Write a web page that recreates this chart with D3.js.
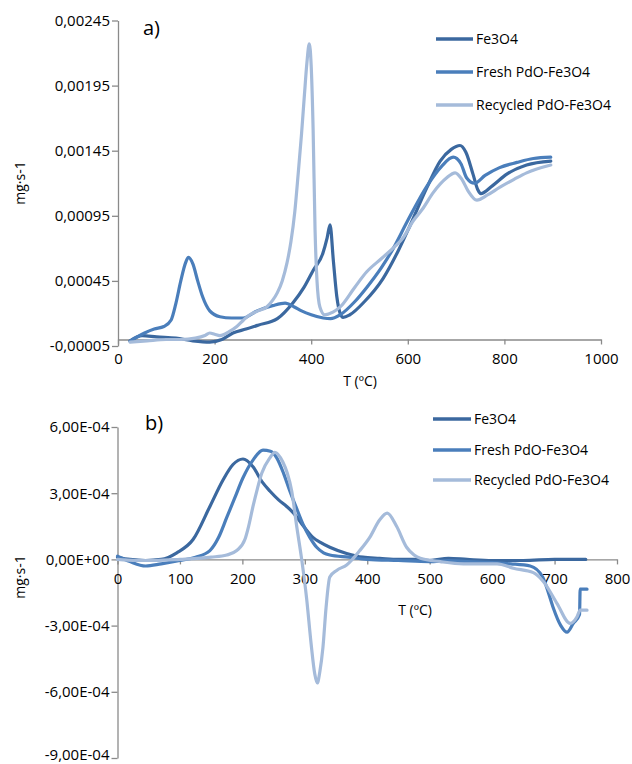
<!DOCTYPE html>
<html>
<head>
<meta charset="utf-8">
<script src="https://cdn.jsdelivr.net/npm/d3@7"></script>
<style>
  html, body { margin: 0; padding: 0; background: #fff; }
  svg { display: block; }
  text { font-family: "Open Sans", "Noto Sans", sans-serif; fill: #000; }
</style>
</head>
<body>
<script>
// ---------------- DATA ----------------
const seriesNames = ["Fe3O4", "Fresh PdO-Fe3O4", "Recycled PdO-Fe3O4"];
const seriesColors = ["#3b689f", "#4a7ebb", "#a5bbda"];

// Panel a) ticks
const xTicksA = [0, 200, 400, 600, 800, 1000];
const yTicksA = [-0.00005, 0.00045, 0.00095, 0.00145, 0.00195, 0.00245];
const yTickLabelsA = ["-0,00005", "0,00045", "0,00095", "0,00145", "0,00195", "0,00245"];

// Panel a) series [T, value]
const fe3o4A = [[25,-0.00001],[50,0.00003],[80,0.00002],[120,0.00001],[155,-0.00001],[190,-0.00002],[215,0.0],[238,0.00005],[265,0.00008],[290,0.00011],[330,0.00016],[362,0.00028],[385,0.0004],[404,0.00053],[424,0.00066],[433,0.00078],[439,0.00088],[446,0.0006],[453,0.00033],[460,0.0002],[466,0.00017],[480,0.00019],[510,0.00029],[549,0.00047],[580,0.00068],[604,0.00087],[640,0.00117],[667,0.00137],[690,0.00146],[708,0.00149],[720,0.00144],[735,0.00127],[745,0.00115],[751,0.00112],[775,0.00118],[805,0.00127],[846,0.00134],[896,0.00137]];
const freshA = [[25,-0.000015],[40,0.00002],[55,0.00005],[75,0.00008],[95,0.0001],[110,0.00015],[120,0.00028],[130,0.00045],[140,0.00059],[146,0.00063],[155,0.00058],[165,0.00045],[175,0.00033],[190,0.00022],[211,0.000175],[235,0.000165],[259,0.000165],[288,0.00022],[320,0.00026],[346,0.00028],[365,0.00025],[380,0.00022],[400,0.00019],[425,0.000165],[440,0.00016],[460,0.00019],[490,0.00029],[515,0.0004],[545,0.00055],[570,0.0007],[598,0.0009],[640,0.00118],[670,0.00133],[694,0.0014],[710,0.00135],[722,0.00124],[738,0.0012],[760,0.00126],[790,0.00132],[826,0.00136],[860,0.00139],[896,0.0014]];
const recycledA = [[25,-0.00002],[60,-0.00001],[100,0.0],[130,0.0],[160,0.00001],[180,0.00003],[190,0.00005],[200,0.00004],[211,0.00003],[230,0.00006],[246,0.0001],[260,0.00015],[273,0.00019],[290,0.00022],[308,0.00025],[320,0.0003],[330,0.00036],[340,0.00045],[350,0.00059],[358,0.00075],[366,0.00098],[373,0.00127],[380,0.00158],[386,0.00188],[391,0.00212],[396,0.00227],[400,0.0021],[404,0.00161],[408,0.00084],[412,0.00045],[418,0.00025],[428,0.00019],[445,0.00021],[460,0.00025],[490,0.0004],[515,0.00052],[545,0.00062],[575,0.00072],[590,0.00078],[611,0.00091],[630,0.001],[653,0.00113],[680,0.00124],[698,0.00128],[712,0.00123],[725,0.00114],[743,0.00107],[765,0.00111],[791,0.00117],[820,0.00123],[846,0.00128],[896,0.00134]];

// Panel b) ticks
const xTicksB = [0, 100, 200, 300, 400, 500, 600, 700, 800];
const yTicksB = [-0.0009, -0.0006, -0.0003, 0, 0.0003, 0.0006];
const yTickLabelsB = ["-9,00E-04", "-6,00E-04", "-3,00E-04", "0,00E+00", "3,00E-04", "6,00E-04"];

// Panel b) series [T, value]
const fe3o4B = [[0,0.00001],[20,0.0],[45,-0.000005],[70,0.0],[95,0.00003],[121,0.00009],[148,0.00024],[169,0.00036],[185,0.00043],[201,0.000455],[217,0.00042],[232,0.00035],[244,0.00031],[258,0.00027],[271,0.00024],[282,0.00021],[298,0.00015],[313,0.0001],[325,0.000077],[340,0.000055],[367,0.000027],[393,0.00001],[420,0.000005],[450,0.0],[480,0.0],[500,-0.000005],[530,0.000005],[560,0.0],[600,-0.000005],[650,-0.000005],[700,0.0],[750,0.0]];
const freshB = [[0,0.000015],[20,-0.00001],[45,-0.00003],[70,-0.00002],[100,-0.000005],[125,0.00001],[148,0.00004],[162,0.0001],[175,0.00019],[188,0.00028],[201,0.00037],[217,0.00045],[233,0.000495],[245,0.00049],[255,0.00046],[266,0.00039],[276,0.00031],[287,0.00023],[297,0.00016],[308,0.0001],[319,0.000055],[330,0.00003],[340,0.00002],[370,0.00001],[400,0.0],[450,-0.000005],[500,-0.00001],[530,-0.000005],[560,-0.00001],[600,-0.000015],[630,-0.00002],[661,-0.00003],[681,-0.00008],[690,-0.00015],[698,-0.00022],[710,-0.0003],[720,-0.00033],[730,-0.00029],[740,-0.00025],[741,-0.000135],[752,-0.000135]];
const recycledB = [[0,0.0],[30,-0.000005],[60,-0.000005],[100,0.0],[150,0.00001],[175,0.00002],[191,0.00004],[204,0.00009],[210,0.00015],[217,0.00024],[224,0.00032],[231,0.00039],[244,0.00046],[252,0.000485],[265,0.00044],[272,0.00039],[279,0.00031],[287,0.00015],[295,0.0],[303,-0.00018],[310,-0.00038],[316,-0.00052],[320,-0.00056],[324,-0.00051],[329,-0.0004],[334,-0.00022],[340,-0.00008],[351,-0.00005],[367,-0.000025],[388,0.00004],[404,0.0001],[420,0.00018],[432,0.00021],[447,0.00015],[463,0.000055],[475,0.00002],[485,0.000005],[517,-0.00001],[554,-0.00002],[608,-0.00002],[634,-0.00004],[666,-0.00006],[682,-0.0001],[704,-0.0002],[725,-0.00029],[736,-0.00026],[741,-0.00023],[752,-0.00023]];

// ---------------- DRAW ----------------
const W = 632, H = 764;
const svg = d3.select("body").append("svg").attr("width", W).attr("height", H);
svg.append("rect").attr("width", W).attr("height", H).attr("fill", "#fff");

const axisColor = "#8a8a8a";

function styleAxis(g) {
  g.select(".domain").attr("stroke", axisColor).attr("stroke-width", 1.3);
  g.selectAll(".tick line").attr("stroke", axisColor).attr("stroke-width", 1.3);
  g.selectAll(".tick text").style("font-size", "15px").attr("fill", "#000");
}

function panel(cfg) {
  const x = d3.scaleLinear().domain(cfg.xDomain).range(cfg.xRange);
  const y = d3.scaleLinear().domain(cfg.yDomain).range(cfg.yRange);

  // y axis
  const gy = svg.append("g").attr("transform", `translate(${cfg.xRange[0]},0)`)
    .call(d3.axisLeft(y).tickValues(cfg.yTicks).tickFormat((d, i) => cfg.yLabels[i])
      .tickSize(6).tickSizeOuter(0).tickPadding(2));
  styleAxis(gy);
  // keep the lowest label inside the picture
  gy.selectAll(".tick text").filter(d => y(d) > 750).attr("dy", "0.1em");

  // x axis at y=0
  const gx = svg.append("g").attr("transform", `translate(0,${y(0)})`)
    .call(d3.axisBottom(x).tickValues(cfg.xTicks).tickFormat(d3.format("d"))
      .tickSize(5).tickSizeOuter(0).tickPadding(cfg.xPad));
  styleAxis(gx);

  // lines
  const line = d3.line().x(d => x(d[0])).y(d => y(d[1])).curve(d3.curveMonotoneX);
  cfg.series.forEach((s, i) => {
    svg.append("path").datum(s)
      .attr("fill", "none")
      .attr("stroke", seriesColors[i])
      .attr("stroke-width", 3.2)
      .attr("stroke-linejoin", "round")
      .attr("stroke-linecap", "round")
      .attr("d", line);
  });

  // axis titles
  svg.append("text").attr("x", cfg.xTitle[0]).attr("y", cfg.xTitle[1])
    .attr("text-anchor", "middle").attr("dy", "0.35em").style("font-size", "14px").text("T (ºC)");
  svg.append("text").attr("transform", `translate(${cfg.yTitle[0]},${cfg.yTitle[1]}) rotate(-90)`)
    .attr("text-anchor", "middle").attr("dy", "0.35em").style("font-size", "14px").text("mg·s-1");

  // panel label
  svg.append("text").attr("x", cfg.label[0]).attr("y", cfg.label[1]).attr("dy", "0.35em")
    .style("font-size", "20px").text(cfg.labelText);

  // legend
  seriesNames.forEach((n, i) => {
    const ly = cfg.legend.y[i];
    svg.append("line").attr("x1", cfg.legend.x1).attr("x2", cfg.legend.x2)
      .attr("y1", ly).attr("y2", ly)
      .attr("stroke", seriesColors[i]).attr("stroke-width", 3.5);
    svg.append("text").attr("x", cfg.legend.x2 + 3).attr("y", ly).attr("dy", "0.35em")
      .style("font-size", "14px").text(n);
  });
}

panel({
  xDomain: [0, 1000], xRange: [118, 601],
  yDomain: [-0.00005, 0.00245], yRange: [346, 20.5],
  xTicks: xTicksA, yTicks: yTicksA, yLabels: yTickLabelsA, xPad: 9,
  series: [fe3o4A, freshA, recycledA],
  xTitle: [360, 381], yTitle: [20, 183],
  label: [143, 28], labelText: "a)",
  legend: { x1: 436, x2: 473, y: [39, 72, 105] }
});

panel({
  xDomain: [0, 800], xRange: [117.5, 617],
  yDomain: [-0.0009, 0.0006], yRange: [758, 427],
  xTicks: xTicksB, yTicks: yTicksB, yLabels: yTickLabelsB, xPad: 9,
  series: [fe3o4B, freshB, recycledB],
  xTitle: [415, 610], yTitle: [20, 577],
  label: [145, 423], labelText: "b)",
  legend: { x1: 433, x2: 471, y: [419, 450, 480] }
});
</script>
</body>
</html>
